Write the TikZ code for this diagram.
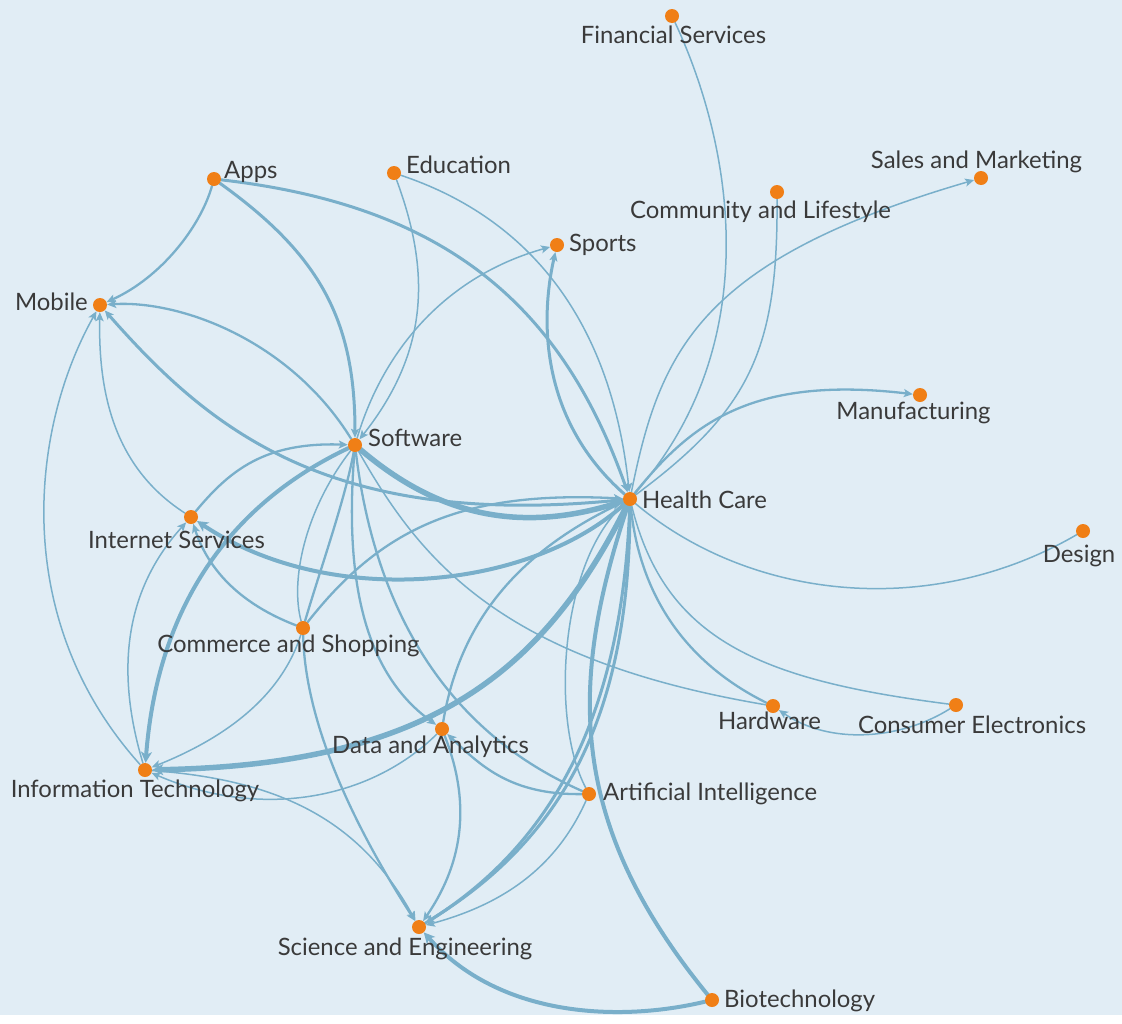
\documentclass[tikz,border=0pt]{standalone}
\usepackage{fontspec}
\setmainfont{Lato}
\usetikzlibrary{arrows.meta}
\definecolor{bgblue}{RGB}{225,237,245}
\definecolor{edgeblue}{RGB}{121,175,202}
\definecolor{nodeorange}{RGB}{240,127,22}
\definecolor{labelgray}{RGB}{58,58,58}
\pgfdeclarelayer{back}
\pgfdeclarelayer{links}
\pgfsetlayers{back,links,main}
\begin{document}
\begin{tikzpicture}[x=1bp,y=-1bp,
  dot/.style={circle,fill=nodeorange,inner sep=0pt,minimum size=14bp},
  lbl/.style={text=labelgray,font=\fontsize{24}{28}\selectfont,inner sep=0pt,anchor=base},
  link/.style={draw=edgeblue,line cap=round},
  w1/.style={link,line width=1.5bp},
  w2/.style={link,line width=2.3bp},
  w3/.style={link,line width=3bp},
  w4/.style={link,line width=4bp},
  w5/.style={link,line width=5.5bp},
  arr/.style={-{Stealth[length=9bp,width=8bp,inset=2bp]}},
  bigarr/.style={-{Stealth[length=11bp,width=11bp,inset=3bp]}}
]
\begin{pgfonlayer}{back}
  \fill[bgblue] (0,0) rectangle (1122,1015);
\end{pgfonlayer}

% industry dots
\node[dot] (fin)    at (672,16)  {};
\node[dot] (apps)   at (214,179) {};
\node[dot] (edu)    at (394,173) {};
\node[dot] (sales)  at (981,178) {};
\node[dot] (comm)   at (777,192) {};
\node[dot] (sports) at (557,245) {};
\node[dot] (mob)    at (100,305) {};
\node[dot] (manu)   at (920,395) {};
\node[dot] (soft)   at (355,445) {};
\node[dot] (health) at (630,499) {};
\node[dot] (inet)   at (191,517) {};
\node[dot] (design) at (1083,531) {};
\node[dot] (shop)   at (303,628) {};
\node[dot] (hard)   at (773,706) {};
\node[dot] (cons)   at (956,705) {};
\node[dot] (data)   at (442,729) {};
\node[dot] (infot)  at (145,770) {};
\node[dot] (ai)     at (589,794) {};
\node[dot] (sci)    at (419,927) {};
\node[dot] (bio)    at (712,1000) {};

% labels
\node[lbl] (l-fin)    at (673.5,43) {Financial Services};
\node[lbl,anchor=base west] (l-apps) at (224,178) {Apps};
\node[lbl,anchor=base west] (l-edu)  at (406,173) {Education};
\node[lbl] (l-sales)  at (976.5,168) {Sales and Marketing};
\node[lbl] (l-comm)   at (760.5,218) {Community and Lifestyle};
\node[lbl,anchor=base west] (l-sports) at (569,251) {Sports};
\node[lbl,anchor=base east] (l-mob) at (88,310) {Mobile};
\node[lbl] (l-manu)   at (913.5,419) {Manufacturing};
\node[lbl,anchor=base west] (l-soft) at (368,446) {Software};
\node[lbl,anchor=base west] (l-health) at (642,508) {Health Care};
\node[lbl] (l-inet)   at (176.5,548) {Internet Services};
\node[lbl] (l-design) at (1079,562) {Design};
\node[lbl] (l-shop)   at (288.5,652) {Commerce and Shopping};
\node[lbl] (l-hard)   at (769.5,729) {Hardware};
\node[lbl] (l-cons)   at (972,733) {Consumer Electronics};
\node[lbl] (l-data)   at (430.5,753) {Data and Analytics};
\node[lbl] (l-infot)  at (135,797) {Information Technology};
\node[lbl,anchor=base west] (l-ai) at (603,800) {Artificial Intelligence};
\node[lbl] (l-sci)    at (405,955) {Science and Engineering};
\node[lbl,anchor=base west] (l-bio) at (724,1007) {Biotechnology};

\begin{pgfonlayer}{links}
% into Mobile
\draw[w2,arr] (apps) .. controls (200,228) and (160,278) .. (mob);
\draw[w2,arr] (soft) .. controls (290,340) and (180,300) .. (mob);
\draw[w3,arr] (health) .. controls (330,530) and (210,430) .. (mob);
\draw[w1,arr] (inet) .. controls (118,470) and (98,400) .. (mob);
\draw[w1,arr] (infot) .. controls (10,620) and (30,430) .. (mob);
% Apps and Education
\draw[w3,arr] (apps) .. controls (320,255) and (355,320) .. (soft);
\draw[w3,arr] (apps) .. controls (440,205) and (560,300) .. (health);
\draw[w1,arr] (edu) .. controls (430,270) and (430,350) .. (soft);
\draw[w1,arr] (edu) .. controls (520,215) and (610,310) .. (health);
% Sports
\draw[w1,arr] (soft) .. controls (385,345) and (450,275) .. (sports);
\draw[w3,arr] (health) .. controls (540,420) and (540,320) .. (sports);
% Software
\draw[w2,arr] (inet) .. controls (230,470) and (265,442) .. (soft);
\draw[w4,bigarr] (soft) .. controls (260,490) and (160,575) .. (infot);
\draw[w5,bigarr] (soft) .. controls (420,500) and (500,540) .. (health);
\draw[w1] (soft) .. controls (305,510) and (290,580) .. (shop);
\draw[w2] (shop) .. controls (320,570) and (345,500) .. (soft);
\draw[w2,arr] (soft) .. controls (345,570) and (360,670) .. (data);
\draw[w2] (soft) .. controls (370,570) and (420,720) .. (ai);
\draw[w1] (soft) .. controls (420,560) and (500,660) .. (hard);
% Internet Services and Commerce
\draw[w2,arr] (shop) .. controls (380,530) and (460,490) .. (health);
\draw[w4,bigarr] (health) .. controls (530,590) and (330,610) .. (inet);
\draw[w1,arr] (infot) .. controls (115,670) and (125,590) .. (inet);
\draw[w2,arr] (shop) .. controls (230,600) and (205,560) .. (inet);
\draw[w1,arr] (shop) .. controls (280,700) and (220,740) .. (infot);
% Health Care to the right
\draw[w1] (health) .. controls (770,340) and (730,140) .. (fin);
\draw[w1] (health) .. controls (750,410) and (778,350) .. (comm);
\draw[w1,arr] (health) .. controls (660,350) and (700,260) .. (sales);
\draw[w2,arr] (health) .. controls (690,425) and (750,375) .. (manu);
\draw[w1] (health) .. controls (750,600) and (930,620) .. (design);
\draw[w1] (health) .. controls (665,640) and (760,680) .. (cons);
\draw[w2] (health) .. controls (640,600) and (690,665) .. (hard);
\draw[w1,arr] (cons) .. controls (900,740) and (830,745) .. (hard);
% Health Care downwards
\draw[w5,bigarr] (health) .. controls (540,680) and (420,765) .. (infot);
\draw[w3,arr] (health) .. controls (630,720) and (560,840) .. (sci);
\draw[w3] (sci) .. controls (552,846) and (622,716) .. (health);
\draw[w2] (health) .. controls (520,550) and (460,620) .. (data);
\draw[w1] (health) .. controls (560,560) and (550,720) .. (ai);
\draw[w4] (health) .. controls (570,680) and (565,820) .. (bio);
% lower part
\draw[w1,arr] (data) .. controls (370,800) and (260,820) .. (infot);
\draw[w1,arr] (infot) .. controls (280,780) and (360,820) .. (sci);
\draw[w2,arr] (shop) .. controls (305,720) and (350,820) .. (sci);
\draw[w2,arr] (data) .. controls (470,800) and (465,860) .. (sci);
\draw[w2,arr] (ai) .. controls (510,795) and (480,765) .. (data);
\draw[w1,arr] (ai) .. controls (555,870) and (500,905) .. (sci);
\draw[w4,bigarr] (bio) .. controls (620,1022) and (500,1018) .. (sci);
\end{pgfonlayer}
\end{tikzpicture}
\end{document}
